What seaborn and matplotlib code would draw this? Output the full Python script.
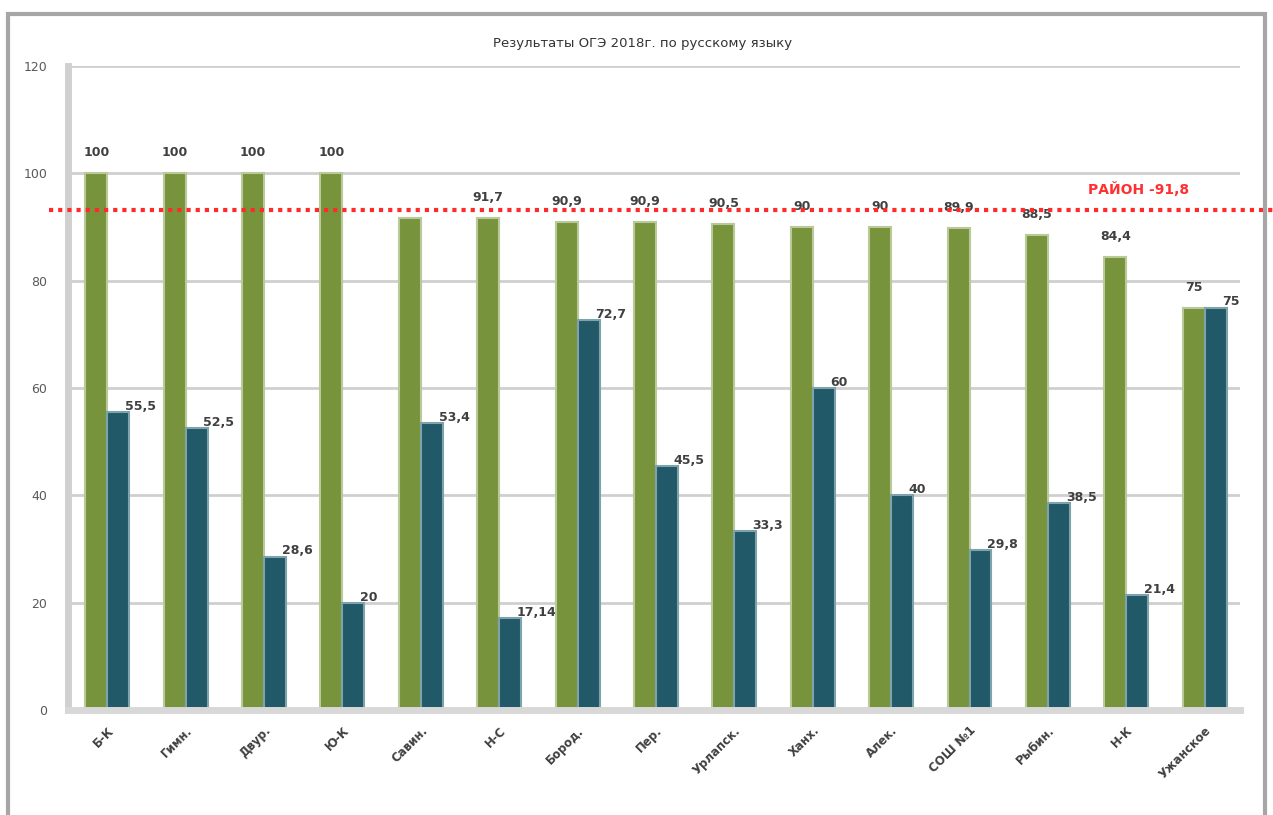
import matplotlib
matplotlib.use("Agg")
import matplotlib.pyplot as plt
import seaborn as sns
import pandas as pd
from matplotlib.patches import Rectangle

categories = ["Б-К", "Гимн.", "Двур.", "Ю-К", "Савин.", "Н-С", "Бород.", "Пер.",
              "Урлапск.", "Ханх.", "Алек.", "СОШ №1", "Рыбин.", "Н-К", "Ужанское"]
success = [100, 100, 100, 100, 91.7, 91.7, 90.9, 90.9, 90.5, 90, 90, 89.9, 88.5, 84.4, 75]
quality = [55.5, 52.5, 28.6, 20, 53.4, 17.14, 72.7, 45.5, 33.3, 60, 40, 29.8, 38.5, 21.4, 75]
success_labels = ["100", "100", "100", "100", "", "91,7", "90,9", "90,9", "90,5", "90", "90",
                  "89,9", "88,5", "84,4", "75"]
quality_labels = ["55,5", "52,5", "28,6", "20", "53,4", "17,14", "72,7", "45,5", "33,3", "60",
                  "40", "29,8", "38,5", "21,4", "75"]
series_names = ["Успеваемость", "Качество"]
district_value = 93.2
district_label = "РАЙОН -91,8"
yticks = [0, 20, 40, 60, 80, 100, 120]

df = pd.DataFrame({
    "school": categories * 2,
    "value": success + quality,
    "series": [series_names[0]] * len(categories) + [series_names[1]] * len(categories),
})

sns.set_theme(style="white")
plt.rcParams['font.family'] = ['DejaVu Sans']

fig = plt.figure(figsize=(12.73, 8.15), dpi=100)
ax = fig.add_axes([68/1273, 1-710/815, (1240-68)/1273, (710-66)/815])

green = "#77933C"
blue = "#215968"
sns.barplot(data=df, x="school", y="value", hue="series", palette=[green, blue],
            width=0.56, ax=ax, legend=False, saturation=1)

edge_cols = ["#b9c99a", "#7fa3ad"]
for cont, ec in zip(ax.containers, edge_cols):
    for p in cont:
        p.set_edgecolor(ec)
        p.set_linewidth(1.5)

ax.set_ylim(0, 120)
ax.set_yticks(yticks)
ax.set_yticklabels([str(t) for t in yticks], fontsize=9, color="#595959")
ax.tick_params(axis="y", length=0, pad=15)
ax.set_xlabel("")
ax.set_ylabel("")
ax.set_xlim(-0.5, len(categories) - 0.55)
ax.set_xticks(range(len(categories)))
ax.set_xticklabels(categories, rotation=45, ha="right", rotation_mode="anchor",
                   fontsize=8.5, fontweight="bold", color="#404040")
ax.tick_params(axis="x", length=0, pad=10)
ax.grid(axis="y", color="#cfcfcf", linewidth=2)
ax.set_axisbelow(True)
for s in ["top", "right"]:
    ax.spines[s].set_visible(False)
ax.spines["left"].set_color("#d0d0d0")
ax.spines["left"].set_linewidth(5)
ax.spines["bottom"].set_color("#d8d8d8")
ax.spines["bottom"].set_linewidth(5)

# data labels
for p, lab in zip(ax.containers[0], success_labels):
    if lab:
        ax.annotate(lab, (p.get_x() + p.get_width() / 2, p.get_height()),
                    xytext=(0, 10), textcoords="offset points", ha="center", va="bottom",
                    fontsize=9, fontweight="bold", color="#404040")
for p, lab in zip(ax.containers[1], quality_labels):
    ax.annotate(lab, (p.get_x() + p.get_width(), p.get_height()),
                xytext=(-3, 4), textcoords="offset points", ha="left", va="center",
                fontsize=9, fontweight="bold", color="#404040")

# district line
ax.axhline(district_value, xmin=-0.016, xmax=1.03, color="#ff2a2a", linewidth=3,
           linestyle=(0, (1, 1.2)), clip_on=False, zorder=5)
ax.text(0.957, 95.5, district_label, transform=ax.get_yaxis_transform(), ha="right",
        va="bottom", color="#ff3030", fontsize=10, fontweight="bold")

ax.set_title("Результаты ОГЭ 2018г. по русскому языку", fontsize=9.5, color="#333333",
             pad=14, x=0.49)

# outer frame
fig.patches.append(Rectangle((8/1273, -0.1), (1265-8)/1273, 1.1 - 14/815,
                             transform=fig.transFigure, fill=False,
                             edgecolor="#a6a6a6", linewidth=3))

fig.savefig("out.png", dpi=100)
